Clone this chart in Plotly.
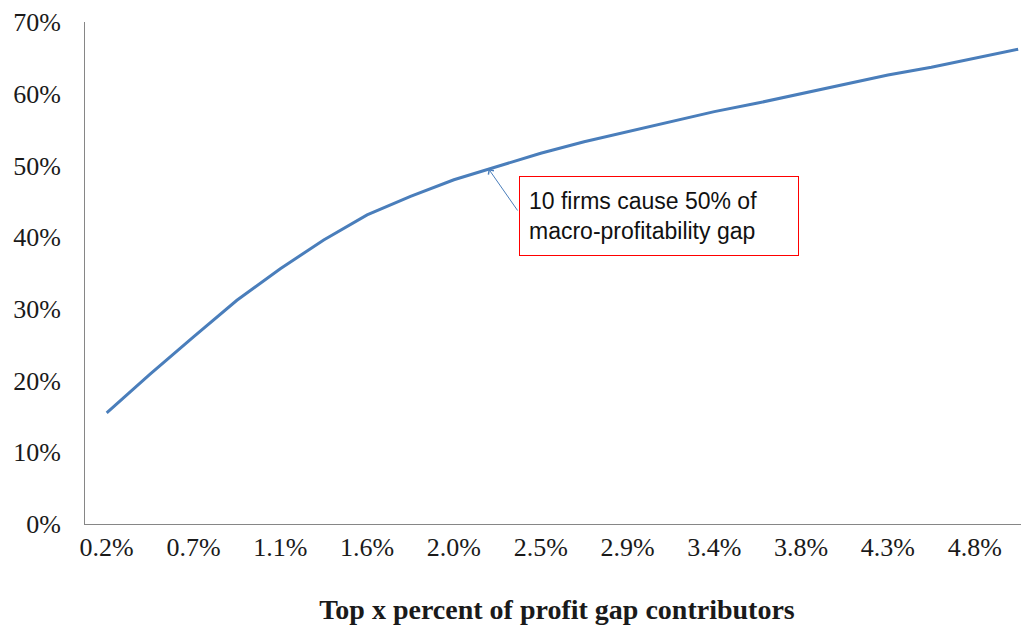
import plotly.graph_objects as go

# Top x percent of profit-gap contributors (categories)
categories = ["0.2%", "0.5%", "0.7%", "0.9%", "1.1%", "1.4%", "1.6%", "1.8%", "2.0%", "2.3%",
              "2.5%", "2.7%", "2.9%", "3.2%", "3.4%", "3.6%", "3.8%", "4.1%", "4.3%", "4.5%",
              "4.8%", "5.0%"]
# Cumulative share of macro-profitability gap
share = [0.155, 0.209, 0.261, 0.312, 0.356, 0.396, 0.431, 0.457, 0.480, 0.499,
         0.517, 0.533, 0.547, 0.561, 0.575, 0.587, 0.600, 0.614, 0.626, 0.637,
         0.649, 0.662]
y_ticks = [0, 0.1, 0.2, 0.3, 0.4, 0.5, 0.6, 0.7]
y_ticktext = ["0%", "10%", "20%", "30%", "40%", "50%", "60%", "70%"]
shown_ticks = categories[::2]

annotation_text = "10 firms cause 50% of<br>macro-profitability gap"
arrow_target_x = 8.8
arrow_target_y = 0.495

fig = go.Figure()
fig.add_trace(go.Scatter(
    x=categories, y=share, mode="lines",
    line=dict(color="#4a7ebb", width=3),
    showlegend=False, hoverinfo="skip", cliponaxis=False,
))

serif = "Liberation Serif"
fig.update_layout(
    width=1021, height=621,
    margin=dict(l=77, r=0, t=14, b=105),
    paper_bgcolor="white", plot_bgcolor="white",
    font=dict(family=serif, color="#1a1a1a"),
    xaxis=dict(
        type="category", range=[-0.5, 21.25], automargin=False,
        tickmode="array", tickvals=shown_ticks, ticktext=shown_ticks,
        showgrid=False, zeroline=False, showline=True, linecolor="#868686", linewidth=1,
        ticks="", tickfont=dict(family=serif, size=26, color="#1a1a1a"),
        ticklabelstandoff=0,
        title=dict(text="<b>Top x percent of profit gap contributors</b>",
                   font=dict(family=serif, size=28, color="#1a1a1a"), standoff=38),
    ),
    yaxis=dict(
        range=[0, 0.7], tickmode="array", tickvals=y_ticks, ticktext=y_ticktext,
        automargin=False,
        showgrid=False, zeroline=False, showline=True, linecolor="#868686", linewidth=1,
        ticks="", tickfont=dict(family=serif, size=26, color="#1a1a1a"),
        ticklabelstandoff=18,
    ),
)

# text box
fig.add_annotation(
    xref="paper", yref="paper", x=(519 - 85) / 944, y=(524 - 176) / 502,
    xanchor="left", yanchor="top",
    text=annotation_text, showarrow=False, align="left",
    font=dict(family="Liberation Sans", size=23, color="#111111"),
    bordercolor="#ff0000", borderwidth=1, borderpad=9,
    bgcolor="white", width=260, height=60, valign="middle",
)
# arrow
fig.add_annotation(
    x=arrow_target_x, y=arrow_target_y, xref="x", yref="y",
    text="", showarrow=True, ax=30, ay=43,
    arrowhead=4, arrowsize=1.3, arrowwidth=1, arrowcolor="#4a7ebb", standoff=0,
)

fig.write_html("out.html")
